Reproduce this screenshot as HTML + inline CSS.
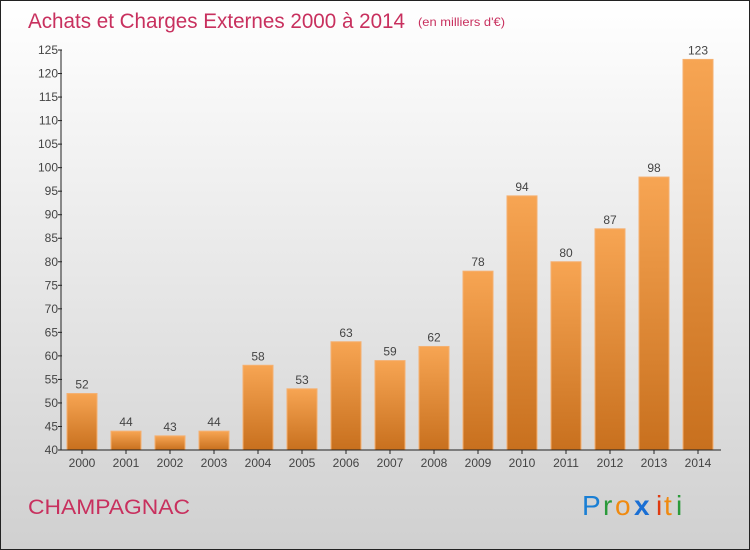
<!DOCTYPE html>
<html><head><meta charset="utf-8"><style>
html,body{margin:0;padding:0;width:750px;height:550px;overflow:hidden}
text{font-family:"Liberation Sans",sans-serif}
</style></head><body>
<svg id="c" width="750" height="550" xmlns="http://www.w3.org/2000/svg">
<defs>
<linearGradient id="bg" x1="0" y1="0" x2="0" y2="1"><stop offset="0" stop-color="#ffffff"/><stop offset="1" stop-color="#d0d0d0"/></linearGradient>
<linearGradient id="bar" x1="0" y1="0" x2="0" y2="1"><stop offset="0" stop-color="#f7a553"/><stop offset="1" stop-color="#c8701e"/></linearGradient>
</defs>
<rect x="0.5" y="0.5" width="749" height="549" fill="url(#bg)" stroke="#222"/>
<text x="28" y="28" font-size="21" fill="#c8305e" textLength="377" lengthAdjust="spacingAndGlyphs">Achats et Charges Externes 2000 à 2014</text>
<text x="418" y="26" font-size="12" fill="#c8305e" textLength="87" lengthAdjust="spacingAndGlyphs">(en milliers d'€)</text>
<text x="28" y="514" font-size="21" fill="#c8305e" textLength="162" lengthAdjust="spacingAndGlyphs">CHAMPAGNAC</text>
<g font-size="28">
<text x="582" y="515" fill="#1a7fd4">P</text><text x="603" y="515" fill="#2a9a3a">r</text><text x="615" y="515" fill="#f08a10">o</text><text x="634" y="515" fill="#1a6fd4" font-weight="bold">x</text><text x="656" y="515" fill="#e03a10">i</text><text x="664" y="515" fill="#f08a10">t</text><text x="676" y="515" fill="#2a9a3a">i</text>
</g>
<g id="plot"></g>
</svg>
<script>
const categories=["2000","2001","2002","2003","2004","2005","2006","2007","2008","2009","2010","2011","2012","2013","2014"];
const values=[52,44,43,44,58,53,63,59,62,78,94,80,87,98,123];
const yTicks=[40,45,50,55,60,65,70,75,80,85,90,95,100,105,110,115,120,125];
const NS="http://www.w3.org/2000/svg";
const g=document.getElementById('plot');
const yMin=40,yMax=125,y0=450,y1=50;
function y(v){return y0-(v-yMin)/(yMax-yMin)*(y0-y1);}
function x(i){return 82+44*i;}
function el(t,a,txt){const e=document.createElementNS(NS,t);for(const k in a)e.setAttribute(k,a[k]);if(txt!==undefined)e.textContent=txt;g.appendChild(e);return e;}
values.forEach((v,i)=>{
 const r=el('rect',{x:x(i)-15,y:y(v),width:30,height:y0-y(v),fill:'url(#bar)',stroke:'#f5b070','stroke-width':1});
 
 
 const t=el('text',{x:x(i),y:y(v)-5,'font-size':12,fill:'#444','text-anchor':'middle'},String(v));
 
 
 const l=el('text',{x:x(i),y:467,'font-size':12,fill:'#444','text-anchor':'middle'},categories[i]);
 
 
 const tk=el('line',{x1:x(i),x2:x(i),y1:450,y2:454,stroke:'#222'});
 
 
});
yTicks.forEach(v=>{
 const tk=el('line',{x1:58,x2:62,y1:y(v),y2:y(v),stroke:'#222'});
 
 
 const t=el('text',{x:58,y:y(v)+4,'font-size':12,fill:'#444','text-anchor':'end'},String(v));
 
 
});
const ya=el('line',{x1:61,x2:61,y1:50,y2:450,stroke:'#222'});


const xa=el('line',{x1:61,x2:721,y1:450,y2:450,stroke:'#222'});


</script>
</body></html>
